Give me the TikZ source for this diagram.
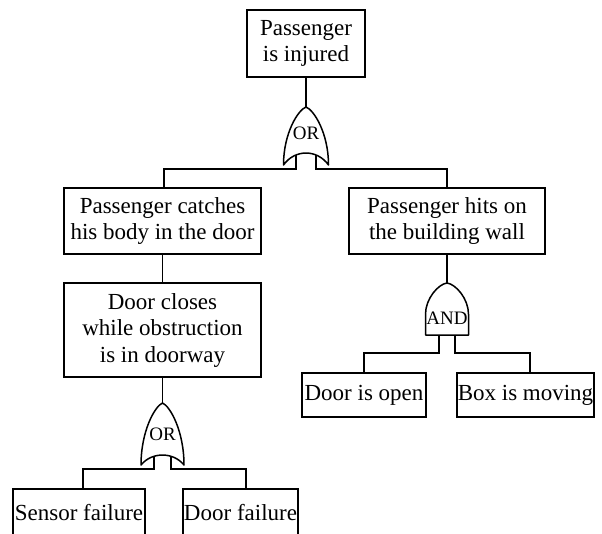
\documentclass[tikz,border=0pt]{standalone}
\usepackage{fontspec}
\setmainfont{Liberation Serif}
\newcommand\ORgateshape[5]{% cx, apex y, bottom y, half width, inner rise
  \path[draw, fill=white, line width=1.5pt, line join=round]
    (#1,#2) .. controls ({#1-0.35*#4},{#2+0.05*(#3-#2)}) and ({#1-#4},{#2+0.45*(#3-#2)}) .. ({#1-#4},#3)
    .. controls ({#1-0.5*#4},{#3-1.33*#5}) and ({#1+0.5*#4},{#3-1.33*#5}) .. ({#1+#4},#3)
    .. controls ({#1+#4},{#2+0.45*(#3-#2)}) and ({#1+0.35*#4},{#2+0.05*(#3-#2)}) .. (#1,#2) -- cycle;}
\newcommand\ANDgateshape[4]{% cx, apex y, bottom y, half width
  \path[draw, fill=white, line width=1.5pt, line join=round]
    ({#1-#4},#3) -- ({#1-#4},{#3-0.4*(#3-#2)})
    .. controls ({#1-#4},{#2+0.3*(#3-#2)}) and ({#1-0.4*#4},{#2+0.02*(#3-#2)}) .. (#1,#2)
    .. controls ({#1+0.4*#4},{#2+0.02*(#3-#2)}) and ({#1+#4},{#2+0.3*(#3-#2)}) .. ({#1+#4},{#3-0.4*(#3-#2)})
    -- ({#1+#4},#3) -- cycle;}
\begin{document}
\begin{tikzpicture}[x=1pt,y=-1pt,
  box/.style={draw, line width=1.5pt, inner sep=0pt, align=center,
    font=\fontsize{23}{26.5}\selectfont},
  gatetext/.style={inner sep=0pt, font=\fontsize{19}{22}\selectfont},
  wire/.style={line width=1.5pt}]
\useasboundingbox (0,0) rectangle (602,533);
\fill[white] (0,0) rectangle (602,533);
\clip (0,0) rectangle (602,533);

% boxes
\node[box, minimum width=118pt, minimum height=67pt] (top) at (306,43.5) {Passenger\\is injured};
\node[box, minimum width=197pt, minimum height=66pt] (catch) at (162.5,221) {Passenger catches\\his body in the door};
\node[box, minimum width=196pt, minimum height=66pt] (hits) at (447,221) {Passenger hits on\\the building wall};
\node[box, minimum width=197pt, minimum height=94pt] (closes) at (162.5,330) {Door closes\\while obstruction\\is in doorway};
\node[box, minimum width=124pt, minimum height=44pt] (open) at (364,395) {Door is open};
\node[box, minimum width=137pt, minimum height=44pt] (moving) at (525.5,395) {Box is moving};
\node[box, minimum width=132pt, minimum height=48pt] (sensor) at (79,513) {Sensor failure};
\node[box, minimum width=115pt, minimum height=48pt] (doorfail) at (240.5,513) {Door failure};

% gate anchor coordinates
\coordinate (g1apex) at (306,107);
\coordinate (g1l) at (296,152);
\coordinate (g1r) at (316,152);
\coordinate (bar1) at (0,169);
\coordinate (g2apex) at (162.5,403);
\coordinate (g2l) at (154,455);
\coordinate (g2r) at (171,455);
\coordinate (bar2) at (0,469);
\coordinate (g3apex) at (447,283);
\coordinate (g3l) at (439,335);
\coordinate (g3r) at (455,335);
\coordinate (bar3) at (0,353);

% connectors
\draw[wire] (top.south) -- (g1apex);
\draw[wire] (g1l) |- ([xshift=1.5pt]catch.north |- bar1) -- ([xshift=1.5pt]catch.north);
\draw[wire] (g1r) |- (hits.north |- bar1) -- (hits.north);
\draw[wire] (catch.south) -- (closes.north);
\draw[wire] (closes.south) -- (g2apex);
\draw[wire] (g2l) |- ([xshift=4pt]sensor.north |- bar2) -- ([xshift=4pt]sensor.north);
\draw[wire] (g2r) |- ([xshift=5.5pt]doorfail.north |- bar2) -- ([xshift=5.5pt]doorfail.north);
\draw[wire] (hits.south) -- (g3apex);
\draw[wire] (g3l) |- (open.north |- bar3) -- (open.north);
\draw[wire] (g3r) |- ([xshift=4.5pt]moving.north |- bar3) -- ([xshift=4.5pt]moving.north);

% gates
\ORgateshape{306}{107}{165}{22.5}{12}
\ORgateshape{162.5}{403}{465}{21.5}{10}
\ANDgateshape{447}{283}{335}{21.5}
\node[gatetext] (or1) at (306,133) {OR};
\node[gatetext] (or2) at (162.5,434) {OR};
\node[gatetext] (and1) at (447,318) {AND};
\end{tikzpicture}
\end{document}
